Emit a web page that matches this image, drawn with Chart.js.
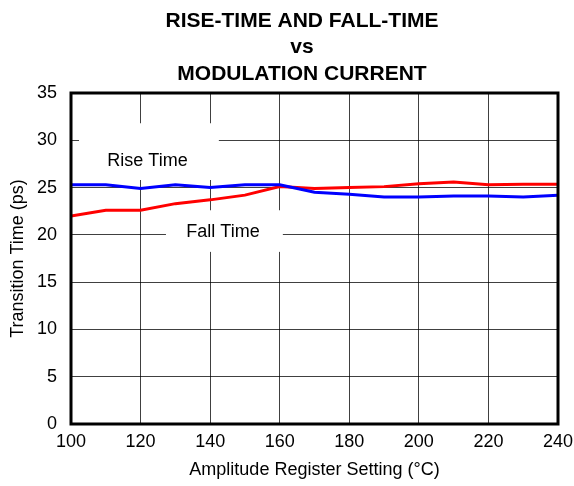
<!DOCTYPE html>
<html>
<head>
<meta charset="utf-8">
<script src="https://cdn.jsdelivr.net/npm/chart.js@4.4.1/dist/chart.umd.min.js"></script>
<style>
  body { margin: 0; background: #ffffff; }
  #wrap { width: 574px; height: 486px; }
</style>
</head>
<body>
<div id="wrap"><canvas id="riseFallChart" width="574" height="486"></canvas></div>
<script>
// ==========================================
// Rise-time / fall-time vs modulation current
// ==========================================

const titleLines = ["RISE-TIME AND FALL-TIME", "vs", "MODULATION CURRENT"];

const registerSetting = [100, 110, 120, 130, 140, 150, 160, 170, 180, 190, 200, 210, 220, 230, 240];

const riseTime = [25.3, 25.3, 24.9, 25.3, 25.0, 25.3, 25.3, 24.5, 24.3, 24.0, 24.0, 24.1, 24.1, 24.0, 24.2];

const fallTime = [22.0, 22.6, 22.6, 23.3, 23.7, 24.2, 25.1, 24.9, 25.0, 25.1, 25.4, 25.6, 25.3, 25.35, 25.35];

const xTicks = [100, 120, 140, 160, 180, 200, 220, 240];
const yTicks = [0, 5, 10, 15, 20, 25, 30, 35];

// text labels placed on the plot (data coordinates)
const curveLabels = [
    { text: "Rise Time", x: 122, y: 27.8, box: [102.3, 142.5, 31.8, 25.8] },
    { text: "Fall Time", x: 143.7, y: 20.35, box: [127.3, 160.9, 22.6, 18.2] }
];

const FONT = "'Liberation Sans', Arial, Helvetica, sans-serif";

const toPoints = (ys) => registerSetting.map((x, i) => ({ x: x, y: ys[i] }));

const overlayPlugin = {

    id: "overlay",

    beforeDatasetsDraw(chart){

        const ctx = chart.ctx;
        const xs = chart.scales.x;
        const ys = chart.scales.y;

        ctx.save();

        curveLabels.forEach(l => {

            const x0 = xs.getPixelForValue(l.box[0]);
            const x1 = xs.getPixelForValue(l.box[1]);
            const y0 = ys.getPixelForValue(l.box[2]);
            const y1 = ys.getPixelForValue(l.box[3]);

            ctx.fillStyle = "#ffffff";
            ctx.fillRect(x0, y0, x1 - x0, y1 - y0);

            ctx.fillStyle = "#000000";
            ctx.font = "18px " + FONT;
            ctx.textAlign = "center";
            ctx.textBaseline = "middle";
            ctx.fillText(l.text, xs.getPixelForValue(l.x), ys.getPixelForValue(l.y));

        });

        ctx.restore();

    },

    afterDraw(chart){

        const ctx = chart.ctx;
        const a = chart.chartArea;

        ctx.save();

        // plot frame
        ctx.strokeStyle = "#000000";
        ctx.lineWidth = 3;
        ctx.strokeRect(a.left, a.top, a.right - a.left, a.bottom - a.top);

        // title
        ctx.fillStyle = "#000000";
        ctx.font = "bold 21px " + FONT;
        ctx.textAlign = "center";
        ctx.textBaseline = "alphabetic";
        const baselines = [27, 53, 80];
        titleLines.forEach((t, i) => ctx.fillText(t, 302, baselines[i]));

        ctx.restore();

    }

};

new Chart(

    document.getElementById("riseFallChart"),

    {

        type: "line",

        data: {

            datasets: [

                {
                    label: "Rise Time",
                    data: toPoints(riseTime),
                    borderColor: "#0000ff",
                    borderWidth: 3,
                    pointRadius: 0,
                    tension: 0,
                    fill: false
                },

                {
                    label: "Fall Time",
                    data: toPoints(fallTime),
                    borderColor: "#ff0000",
                    borderWidth: 3,
                    pointRadius: 0,
                    tension: 0,
                    fill: false
                }

            ]

        },

        options: {

            responsive: false,
            animation: false,
            devicePixelRatio: 1,

            layout: {
                padding: { top: 93, right: 16, left: 0, bottom: 0 }
            },

            plugins: {
                legend: { display: false },
                title: { display: false },
                tooltip: { enabled: false }
            },

            scales: {

                x: {
                    type: "linear",
                    min: 100,
                    max: 240,
                    afterBuildTicks: (s) => { s.ticks = xTicks.map(v => ({ value: v })); },
                    afterFit: (s) => { s.height = 62; s.paddingLeft = 0; s.paddingRight = 0; },
                    grid: { color: "rgba(0,0,0,0.75)", lineWidth: 1, drawTicks: false },
                    border: { display: false },
                    ticks: {
                        color: "#000000",
                        padding: 7,
                        font: { family: FONT, size: 18 }
                    },
                    title: {
                        display: true,
                        text: "Amplitude Register Setting (°C)",
                        color: "#000000",
                        padding: { top: 0, bottom: 5 },
                        font: { family: FONT, size: 18 }
                    }
                },

                y: {
                    min: 0,
                    max: 35,
                    afterBuildTicks: (s) => { s.ticks = yTicks.map(v => ({ value: v })); },
                    afterFit: (s) => { s.width = 71; s.paddingTop = 0; s.paddingBottom = 0; },
                    grid: { color: "rgba(0,0,0,0.75)", lineWidth: 1, drawTicks: false },
                    border: { display: false },
                    ticks: {
                        color: "#000000",
                        padding: 14,
                        font: { family: FONT, size: 18 }
                    },
                    title: {
                        display: true,
                        text: "Transition Time (ps)",
                        color: "#000000",
                        padding: { top: 7, bottom: 0 },
                        font: { family: FONT, size: 18 }
                    }
                }

            }

        },

        plugins: [overlayPlugin]

    }

);
</script>
</body>
</html>
